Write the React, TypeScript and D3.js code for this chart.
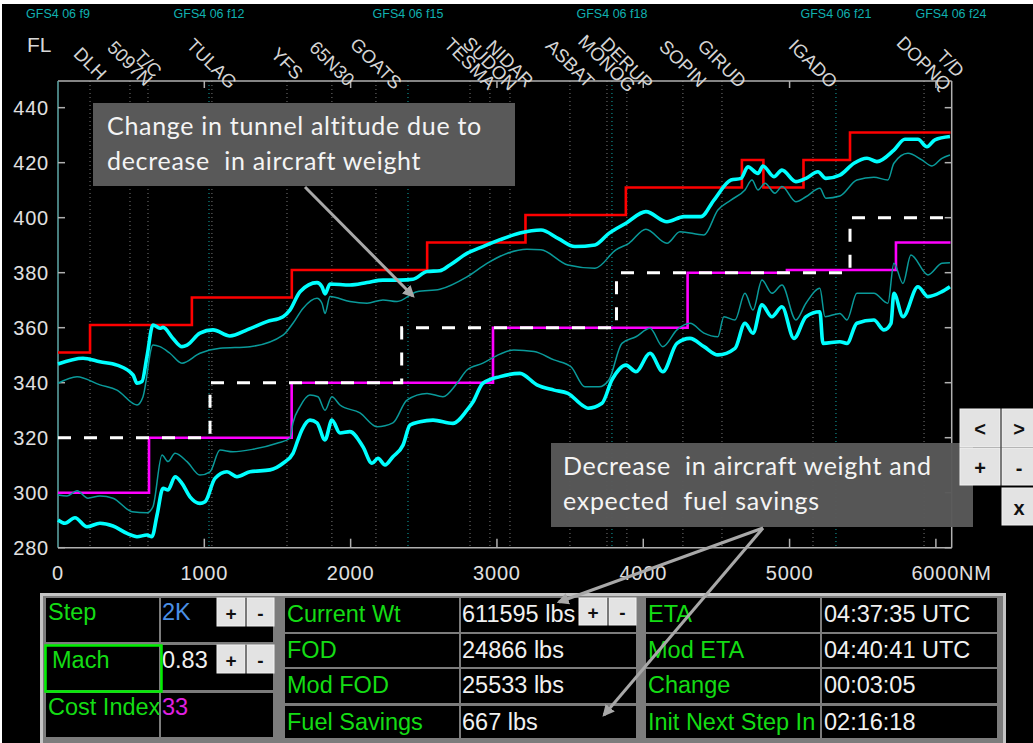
import React from 'react';
import * as d3 from 'd3';

type P = [number, number];

// ---------- data ----------
const xTickValues = [0, 1000, 2000, 3000, 4000, 5000, 6000];
const yTickValues = [280, 300, 320, 340, 360, 380, 400, 420, 440];

const waypointNames = ['DLH', '5097N', 'T/C', 'TULAG', 'YFS', '65N30', 'GOATS', 'TESMA', 'SUDON', 'NIDAR', 'ASBAT', 'MONOG', 'DERUP', 'SOPIN', 'GIRUD', 'IGADO', 'DOPNQ', 'T/D'];
const waypointNM = [219, 492, 615, 1052, 1565, 1872, 2173, 2816, 2952, 3089, 3499, 3752, 3888, 4271, 4538, 5160, 5919, 6100];
const waypointHasLine = [true, true, true, true, true, true, true, true, true, true, true, true, true, true, true, true, true, false];

const gfsLabels = ['GFS4 06 f9', 'GFS4 06 f12', 'GFS4 06 f15', 'GFS4 06 f18', 'GFS4 06 f21', 'GFS4 06 f24'];
const gfsNM = [0, 1032, 2392, 3786, 5317, 6103];

const redSteps: P[] = [[0, 351], [219, 361], [915, 371], [1598, 381], [2523, 391], [3195, 401], [3881, 411], [4674, 421], [4821, 411], [5095, 421], [5413, 431], [6100, 431]];
const magentaSteps: P[] = [[0, 300], [622, 320], [1597, 340], [2973, 360], [4303, 380], [4982, 381], [5727, 391], [6100, 391]];
const whiteSteps: P[] = [[0, 320], [1039, 340], [2349, 360], [3817, 380], [5413, 400], [6100, 400]];

const upperThick: P[] = [[0, 346.8], [171, 348.9], [287, 347.6], [403, 346.4], [513, 342.8], [540, 339.8], [574, 340.4], [608, 349.5], [649, 361], [697, 359.8], [718, 360.1], [786, 356.1], [847, 353.1], [882, 353.7], [970, 358], [1059, 359.2], [1175, 357], [1292, 359.2], [1428, 362.2], [1538, 364], [1585, 366.4], [1654, 373.1], [1770, 376.4], [1804, 374.9], [1825, 372.3], [1859, 375.9], [1995, 375.5], [2112, 376.4], [2221, 377.3], [2337, 377.3], [2426, 377.6], [2522, 380.4], [2610, 380.7], [2679, 382.8], [2795, 387], [2904, 389.5], [3021, 392], [3157, 394.4], [3301, 395.5], [3417, 392.5], [3533, 389.5], [3670, 390.1], [3765, 394.3], [3882, 398], [4018, 402.2], [4162, 398.5], [4278, 400.4], [4394, 400.4], [4483, 406.4], [4599, 413.7], [4668, 414.3], [4715, 418.5], [4784, 416.1], [4818, 418.8], [4893, 414.9], [4948, 417.3], [5043, 413.1], [5112, 414.3], [5194, 416.7], [5248, 414.3], [5344, 415.5], [5440, 419.8], [5529, 421.6], [5597, 420.4], [5713, 424.6], [5788, 428.5], [5877, 428.5], [5939, 425.8], [5993, 428.3], [6096, 429.5]];

const upperThin: P[] = [[0, 339.8], [130, 342.2], [287, 339.2], [403, 337.3], [540, 331.9], [581, 334.9], [649, 353.7], [697, 353.1], [765, 350.7], [847, 347.1], [970, 350.7], [1107, 352.5], [1312, 353.1], [1538, 357.3], [1606, 361.6], [1674, 367], [1770, 370.7], [1804, 368.9], [1825, 365.2], [1859, 371.3], [1995, 369.5], [2112, 368.9], [2221, 370.1], [2317, 369.5], [2453, 373.1], [2610, 374], [2795, 378.5], [2932, 383.4], [3068, 387], [3205, 388.5], [3301, 388.3], [3485, 382.8], [3670, 381.6], [3813, 388.3], [3902, 390.7], [4018, 395.8], [4162, 390.7], [4251, 394.9], [4415, 393.7], [4510, 402.8], [4599, 406.4], [4695, 410.1], [4743, 413.7], [4784, 410.1], [4832, 412.5], [4900, 408.9], [4948, 411.3], [5043, 405.8], [5112, 407.6], [5207, 410.7], [5248, 407.1], [5344, 407.9], [5460, 413.7], [5576, 414.7], [5672, 413.7], [5713, 419.8], [5809, 423.4], [5904, 421], [5973, 418.8], [6041, 421.6], [6096, 422.8]];

const lowerThin: P[] = [[0, 299.2], [62, 298.8], [130, 300.7], [205, 298], [287, 298.8], [376, 298], [506, 293.1], [608, 292.7], [649, 294.9], [711, 313.7], [752, 311.3], [800, 314.3], [882, 311.3], [970, 306.4], [1039, 307.6], [1107, 315.5], [1196, 314.9], [1333, 315.8], [1497, 318], [1585, 319.8], [1606, 325.4], [1654, 331.3], [1722, 335.5], [1777, 334.9], [1825, 330], [1872, 334.9], [1927, 331.9], [2064, 329], [2180, 324], [2289, 325.4], [2385, 333.7], [2522, 336.1], [2631, 334.9], [2727, 339.8], [2795, 344.6], [2904, 347.1], [3021, 350.4], [3116, 351.9], [3253, 351.3], [3390, 348.3], [3506, 345.8], [3601, 338.5], [3697, 338.5], [3765, 341], [3854, 354.3], [3950, 356.7], [4046, 359.8], [4134, 353.1], [4230, 359.2], [4319, 361.6], [4415, 358], [4510, 356.7], [4551, 364], [4627, 362.8], [4695, 372.5], [4750, 366.4], [4811, 377.3], [4879, 372.5], [4948, 375.5], [5043, 362.8], [5112, 368.9], [5207, 374.3], [5242, 364], [5344, 365.2], [5392, 362.8], [5460, 372.5], [5576, 372.5], [5672, 368.9], [5713, 383.4], [5775, 376.1], [5829, 386.4], [5946, 379.2], [6041, 383.4], [6096, 383.6]];

const lowerThick: P[] = [[0, 290.1], [48, 288.9], [116, 290.9], [198, 287.6], [287, 288.9], [376, 287.9], [472, 285.2], [540, 284], [608, 284.6], [642, 284], [677, 291.9], [718, 301.6], [752, 301], [800, 305.8], [847, 303.4], [902, 298.5], [970, 296.1], [1005, 296.7], [1073, 305.2], [1155, 307.6], [1223, 305.8], [1312, 307.6], [1449, 308.3], [1538, 310.7], [1606, 314.3], [1640, 319.2], [1667, 322.8], [1722, 326.4], [1770, 325.4], [1825, 319.2], [1872, 326.4], [1927, 321.7], [1995, 322.2], [2084, 316.7], [2146, 310.7], [2187, 312.5], [2235, 310.1], [2289, 313.1], [2358, 317.3], [2406, 324.6], [2474, 325.8], [2563, 326.4], [2699, 325.2], [2795, 330], [2836, 333], [2904, 339.8], [3021, 342.2], [3157, 343.4], [3273, 339.2], [3390, 337.3], [3485, 336.1], [3581, 331.9], [3622, 330.7], [3718, 332.5], [3786, 341], [3882, 346.4], [3950, 344], [4046, 350.7], [4134, 344], [4230, 354.3], [4319, 356.1], [4415, 353.1], [4510, 350.1], [4627, 352.5], [4695, 361.6], [4750, 358], [4811, 368.3], [4879, 364], [4948, 367.6], [5030, 356.1], [5112, 364], [5207, 365.8], [5228, 354.3], [5344, 354.9], [5392, 354.3], [5460, 361.6], [5576, 362.8], [5645, 359.2], [5693, 361.6], [5713, 372.5], [5775, 364], [5877, 374.9], [5946, 371.3], [6041, 373.1], [6096, 374.9]];

const group1Labels = ['Step', 'Mach', 'Cost Index'];
const group1Values = ['2K', '0.83', '33'];
const group2Labels = ['Current Wt', 'FOD', 'Mod FOD', 'Fuel Savings'];
const group2Values = ['611595 lbs', '24866 lbs', '25533 lbs', '667 lbs'];
const group3Labels = ['ETA', 'Mod ETA', 'Change', 'Init Next Step In'];
const group3Values = ['04:37:35 UTC', '04:40:41 UTC', '00:03:05', '02:16:18'];

const note1Lines = ['Change in tunnel altitude due to', 'decrease  in aircraft weight'];
const note2Lines = ['Decrease  in aircraft weight and', 'expected  fuel savings'];

// ---------- component ----------
const AX = '"Liberation Sans", Arial, sans-serif';
const GREEN = '#14dc14';
const NOTE_FONT = "Lato, 'Open Sans', sans-serif";

function Btn({ x, y, w, h, label, size = 19 }: { x: number; y: number; w: number; h: number; label: string; size?: number }) {
  return (
    <g>
      <rect x={x} y={y} width={w} height={h} fill="#e3e3e3" stroke="#f2f2f2" strokeWidth={1} />
      <text x={x + w / 2} y={y + h / 2 + 1} textAnchor="middle" dominantBaseline="central" fontFamily={AX} fontWeight="bold" fontSize={size} fill="#111">{label}</text>
    </g>
  );
}

export default function App() {
  const x = d3.scaleLinear().domain([0, 6108]).range([58, 951.7]);
  const y = d3.scaleLinear().domain([280, 449.7]).range([547.7, 81]);
  const [left, right] = x.range();
  const [bottom, top] = y.range();

  const step = d3.line<P>().x(d => x(d[0])).y(d => y(d[1])).curve(d3.curveStepAfter);
  const smooth = d3.line<P>().x(d => x(d[0])).y(d => y(d[1])).curve(d3.curveMonotoneX);

  const g1Rows: [number, number][] = [[598, 642], [645, 690], [693, 737]];
  const gRows: [number, number][] = [[598, 632], [634, 667], [669, 703], [706, 738]];

  return (
    <div style={{ position: 'fixed', left: 0, top: 0, width: 1033, height: 743, overflow: 'hidden' }}>
      <svg width={1033} height={743} style={{ display: 'block' }}>
        <defs>
          <marker id="ah" viewBox="0 0 10 10" refX="8" refY="5" markerWidth="4" markerHeight="4" orient="auto">
            <path d="M0,0 L10,5 L0,10 z" fill="#a8a8a8" />
          </marker>
        </defs>
        <rect x={0} y={0} width={1033} height={743} fill="#ffffff" />
        <rect x={2} y={4} width={1031} height={739} fill="#000000" />

        {/* GFS labels */}
        {gfsLabels.map((t, i) => (
          <text key={t} x={x(gfsNM[i])} y={18} textAnchor="middle" fontFamily={AX} fontSize={12.5} fill="#10b0b0">{t}</text>
        ))}
        <text x={27} y={52} fontFamily={AX} fontSize={21} fill="#d8d8d8">FL</text>

        {/* vertical dotted lines */}
        {waypointNM.map((v, i) => waypointHasLine[i] ? (
          <line key={'w' + i} x1={x(v)} x2={x(v)} y1={top} y2={bottom} stroke="#a0a0a0" strokeWidth={1} strokeDasharray="1,3" opacity={0.75} />
        ) : null)}
        {gfsNM.slice(1, 5).map((v, i) => (
          <line key={'g' + i} x1={x(v)} x2={x(v)} y1={top} y2={bottom} stroke="#10a8a8" strokeWidth={1} strokeDasharray="1,3" />
        ))}

        {/* axes frame */}
        <line x1={left} x2={right} y1={top} y2={top} stroke="#b0b0b0" strokeWidth={1.5} />
        <line x1={left} x2={right} y1={bottom} y2={bottom} stroke="#b0b0b0" strokeWidth={1.5} />
        <line x1={left} x2={left} y1={top} y2={bottom} stroke="#5fa8a8" strokeWidth={1.5} />
        <line x1={right} x2={right} y1={top} y2={bottom} stroke="#b0b0b0" strokeWidth={1.5} />
        {yTickValues.map(v => (
          <g key={'yt' + v}>
            <line x1={left} x2={left + 7} y1={y(v)} y2={y(v)} stroke="#b0b0b0" strokeWidth={1.5} />
            <line x1={right} x2={right - 7} y1={y(v)} y2={y(v)} stroke="#b0b0b0" strokeWidth={1.5} />
            <text x={49} y={y(v)} textAnchor="end" dominantBaseline="central" fontFamily={AX} fontSize={20} letterSpacing={0.8} fill="#e0e0e0">{v}</text>
          </g>
        ))}
        {xTickValues.map(v => (
          <g key={'xt' + v}>
            {v > 0 && <line x1={x(v)} x2={x(v)} y1={bottom} y2={bottom - 9} stroke="#b0b0b0" strokeWidth={1.5} />}
            {v > 0 && <line x1={x(v)} x2={x(v)} y1={top} y2={top + 7} stroke="#b0b0b0" strokeWidth={1.5} />}
            <text x={x(v)} dx={v === 6000 ? -24.5 : 0} y={580} textAnchor={v === 6000 ? 'start' : 'middle'} fontFamily={AX} fontSize={20} letterSpacing={0.8} fill="#e0e0e0">{v === 6000 ? '6000NM' : v}</text>
          </g>
        ))}

        {/* waypoint labels */}
        {waypointNames.map((n, i) => (
          <text key={'wl' + i} transform={`translate(${x(waypointNM[i]) - 4.5},${68}) rotate(45)`} textAnchor="middle" fontFamily={AX} fontSize={18.5} fill="#d4d4d4">{n}</text>
        ))}

        {/* profiles */}
        <path d={step(redSteps) || ''} fill="none" stroke="#ff0000" strokeWidth={2.6} />
        <path d={step(magentaSteps) || ''} fill="none" stroke="#ff00ff" strokeWidth={2.6} />
        <path d={step(whiteSteps) || ''} fill="none" stroke="#ffffff" strokeWidth={3} strokeDasharray="13,13" />
        <path d={smooth(upperThin) || ''} fill="none" stroke="#0a9a9a" strokeWidth={1.5} />
        <path d={smooth(lowerThin) || ''} fill="none" stroke="#0a9a9a" strokeWidth={1.5} />
        <path d={smooth(upperThick) || ''} fill="none" stroke="#00ffff" strokeWidth={3.6} strokeLinejoin="round" />
        <path d={smooth(lowerThick) || ''} fill="none" stroke="#00ffff" strokeWidth={3.6} strokeLinejoin="round" />

        {/* annotation 1 */}
        <rect x={93} y={103} width={422} height={83} fill="#595959" />
        {note1Lines.map((t, i) => (
          <text key={'n1' + i} x={107} y={135 + i * 35} fontFamily={NOTE_FONT} fontSize={25} letterSpacing={0.7} fill="#f4f4f4" style={{ whiteSpace: 'pre' }}>{t}</text>
        ))}
        <line x1={305} y1={187} x2={413} y2={296} stroke="#a8a8a8" strokeWidth={3} markerEnd="url(#ah)" />

        {/* annotation 2 */}
        <rect x={551} y={443} width={422} height={84} fill="#595959" opacity={0.97} />
        {note2Lines.map((t, i) => (
          <text key={'n2' + i} x={563} y={475 + i * 35} fontFamily={NOTE_FONT} fontSize={25} letterSpacing={0.7} fill="#f4f4f4" style={{ whiteSpace: 'pre' }}>{t}</text>
        ))}

        {/* right buttons */}
        <Btn x={960} y={409} w={40} h={38} label="<" size={20} />
        <Btn x={1002} y={409} w={34} h={38} label=">" size={20} />
        <Btn x={960} y={448} w={40} h={37} label="+" size={20} />
        <Btn x={1002} y={448} w={34} h={37} label="-" size={20} />
        <Btn x={1002} y={488} w={34} h={37} label="x" size={20} />

        {/* table */}
        <rect x={40} y={593} width={966} height={152} fill="#c4c4c4" />
        <rect x={43} y={596} width={960} height={149} fill="#7c7c7c" />
        {g1Rows.map((r, i) => (
          <g key={'g1' + i}>
            <rect x={46} y={r[0]} width={113} height={r[1] - r[0]} fill="#000" />
            <rect x={161} y={r[0]} width={112} height={r[1] - r[0]} fill="#000" />
            <text x={i === 1 ? 52 : 48} y={r[0] + 22 + (i === 1 ? 1 : 0)} fontFamily={AX} fontSize={23.5} fill={GREEN}>{group1Labels[i]}</text>
            <text x={162} y={r[0] + 22 + (i === 1 ? 1 : 0)} fontFamily={AX} fontSize={23.5} fill={i === 0 ? '#4a8fe6' : i === 2 ? '#e020e0' : '#f0f0f0'}>{group1Values[i]}</text>
          </g>
        ))}
        <rect x={45.5} y={645.5} width={116} height={46} fill="none" stroke="#00f000" strokeWidth={2.5} />
        {gRows.map((r, i) => (
          <g key={'g23' + i}>
            <rect x={285} y={r[0]} width={174} height={r[1] - r[0]} fill="#000" />
            <rect x={461} y={r[0]} width={175} height={r[1] - r[0]} fill="#000" />
            <rect x={646} y={r[0]} width={174} height={r[1] - r[0]} fill="#000" />
            <rect x={822} y={r[0]} width={175} height={r[1] - r[0]} fill="#000" />
            <text x={287} y={r[0] + 24} fontFamily={AX} fontSize={23.5} fill={GREEN}>{group2Labels[i]}</text>
            <text x={462} y={r[0] + 24} fontFamily={AX} fontSize={23.5} fill="#f0f0f0">{group2Values[i]}</text>
            <text x={648} y={r[0] + 24} fontFamily={AX} fontSize={23.5} fill={GREEN}>{group3Labels[i]}</text>
            <text x={824} y={r[0] + 24} fontFamily={AX} fontSize={23.5} fill="#f0f0f0">{group3Values[i]}</text>
          </g>
        ))}
        <Btn x={217} y={598} w={28} h={28} label="+" />
        <Btn x={247} y={598} w={27} h={28} label="-" />
        <Btn x={217} y={645} w={28} h={28} label="+" />
        <Btn x={247} y={645} w={27} h={28} label="-" />
        <Btn x={579} y={598} w={28} h={27} label="+" />
        <Btn x={609} y={598} w={27} h={27} label="-" />

        {/* arrows for annotation 2 */}
        <line x1={763} y1={528} x2={559} y2={602} stroke="#a8a8a8" strokeWidth={3} markerEnd="url(#ah)" />
        <line x1={763} y1={528} x2={604} y2={715} stroke="#a8a8a8" strokeWidth={3} markerEnd="url(#ah)" />
      </svg>
    </div>
  );
}
